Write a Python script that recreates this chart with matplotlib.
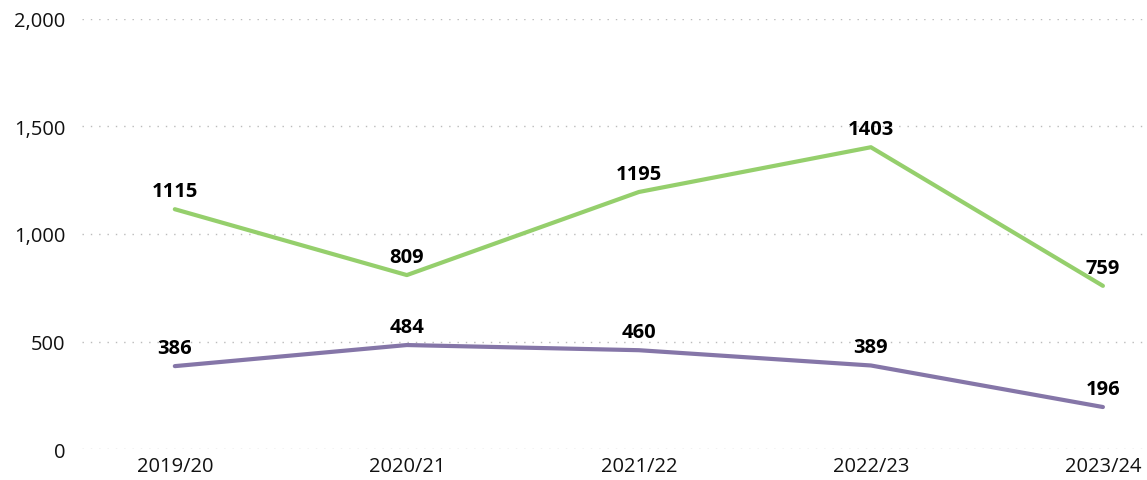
import matplotlib.pyplot as plt
from matplotlib.ticker import FuncFormatter

# Data
years = ['2019/20', '2020/21', '2021/22', '2022/23', '2023/24']
green_vals = [1115, 809, 1195, 1403, 759]
purple_vals = [386, 484, 460, 389, 196]

plt.rcParams['font.family'] = ['Open Sans', 'DejaVu Sans']

fig = plt.figure(figsize=(11.47, 4.81), dpi=100)
ax = fig.add_axes([0.0715, 0.064, 0.9285, 0.895])

x = range(len(years))
ax.plot(x, green_vals, color='#95CF6C', lw=3, solid_capstyle='round', zorder=3)
ax.plot(x, purple_vals, color='#8576A8', lw=3, solid_capstyle='round', zorder=3)

for xi, v in zip(x, green_vals):
    ax.annotate(str(v), (xi, v), xytext=(0, 6), textcoords='offset points',
                ha='center', va='bottom', fontsize=14.5, fontweight='bold')
for xi, v in zip(x, purple_vals):
    ax.annotate(str(v), (xi, v), xytext=(0, 6), textcoords='offset points',
                ha='center', va='bottom', fontsize=14.5, fontweight='bold')

ax.set_xlim(-0.4, 4.19)
ax.set_ylim(0, 2000)
ax.set_yticks([0, 500, 1000, 1500, 2000])
ax.yaxis.set_major_formatter(FuncFormatter(lambda v, p: f'{int(v):,}'))
ax.set_xticks(list(x))
ax.set_xticklabels(years)
ax.tick_params(length=0, labelsize=14.5, colors='#111111')
ax.tick_params(axis='y', pad=12)
ax.tick_params(axis='x', pad=5)

ax.grid(axis='y', color='#BBBBBB', linestyle=(0, (1, 5)), lw=1)
ax.set_axisbelow(True)
for s in ax.spines.values():
    s.set_visible(False)

fig.savefig('out.png', dpi=100)
